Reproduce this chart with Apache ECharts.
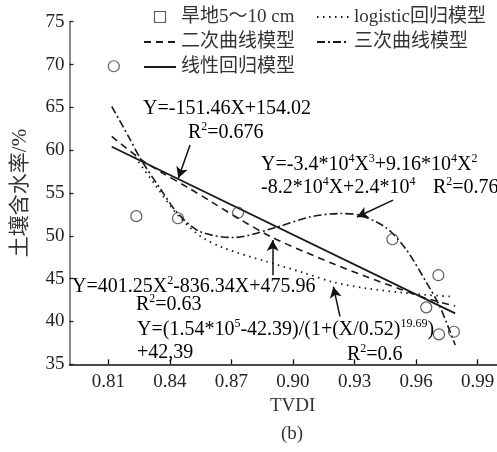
<!DOCTYPE html>
<html>
<head>
<meta charset="utf-8">
<script src="https://cdn.jsdelivr.net/npm/echarts@6/dist/echarts.min.js"></script>
<style>html,body{margin:0;padding:0;background:#fff}#c{width:497px;height:452px}</style>
</head>
<body>
<div id="c"></div>
<script>
// ---- data ----
const xTicks = [0.81, 0.84, 0.87, 0.90, 0.93, 0.96, 0.99];
const pointX = [0.8126, 0.8236, 0.8439, 0.8732, 0.9485, 0.9709, 0.9650, 0.9712, 0.9785];
const pointY = [69.8, 52.3, 52.05, 52.7, 49.6, 45.4, 41.65, 38.5, 38.8];
const linearX = [0.8116, 0.9791];
const linearY = [60.4, 40.95];
const quadX = [0.8116, 0.826, 0.836, 0.849, 0.860, 0.875, 0.890, 0.905, 0.920, 0.935, 0.952, 0.965, 0.9791];
const quadY = [61.6, 58.9, 57.4, 55.6, 54.0, 51.8, 49.8, 48.2, 46.7, 45.3, 43.8, 42.7, 41.8];
const cubicX = [0.8116, 0.820, 0.826, 0.8357, 0.8439, 0.8546, 0.8708, 0.8919, 0.9082, 0.9230, 0.9327, 0.9457, 0.9555, 0.9652, 0.9717, 0.9791];
const cubicY = [65.1, 61.5, 58.85, 55.35, 52.6, 50.5, 49.8, 51.0, 52.2, 52.6, 52.4, 50.9, 48.3, 44.5, 41.7, 37.25];
const logX = [0.823, 0.8326, 0.8439, 0.8546, 0.866, 0.887, 0.905, 0.9196, 0.935, 0.952, 0.965, 0.978];
const logY = [59.2, 56.0, 52.4, 50.0, 48.6, 47.0, 45.7, 44.6, 43.9, 43.4, 43.1, 42.9];
// arrows: [fromX, fromY, toX, toY]
const arrowLinear = [0.8498, 60.6, 0.8441, 56.75];
const arrowCubic = [0.9488, 54.17, 0.9312, 52.2];
const arrowQuad = [0.8901, 45.4, 0.8901, 49.5];
const arrowLog = [0.9229, 40.6, 0.9197, 44.06];

const names = ['旱地5～10 cm', '二次曲线模型', '线性回归模型', 'logistic回归模型', '三次曲线模型'];

const SERIF = '"Liberation Serif", "Noto Sans CJK SC", serif';
const zip = (a, b) => a.map((v, i) => [v, b[i]]);

const rich = {
  n: { fontFamily: SERIF, fontSize: 20, lineHeight: 24, color: '#222' },
  s: { fontFamily: SERIF, fontSize: 12, lineHeight: 12, verticalAlign: 'top', color: '#222' }
};
function eq(str) {
  return '{n|' + str.replace(/\^\{([^}]*)\}/g, '}{s|$1}{n|') + '}';
}
function txt(str, left, cy) {
  return { type: 'text', left: left, top: cy - 12, z: 100,
    style: { text: eq(str), rich: rich } };
}
function arrow(a) {
  return [{ coord: [a[0], a[1]] }, { coord: [a[2], a[3]] }];
}

const chart = echarts.init(document.getElementById('c'), null, { renderer: 'canvas' });
const LINE = '#1a1a1a';
const noSym = { color: 'rgba(0,0,0,0)', borderWidth: 0 };
chart.setOption({
  animation: false,
  backgroundColor: '#fff',
  grid: { left: 69.5, right: 0, top: 21.7, bottom: 87.7, containLabel: false, outerBoundsMode: 'none' },
  xAxis: {
    type: 'value', min: 0.791, max: 0.9995,
    axisLine: { show: true, lineStyle: { color: '#111', width: 1.5 } },
    axisTick: { show: true, inside: true, length: 5, customValues: xTicks, lineStyle: { color: '#111', width: 1.3 } },
    axisLabel: { customValues: xTicks, formatter: v => v.toFixed(2), margin: 8,
      fontFamily: SERIF, fontSize: 19, color: '#222' },
    splitLine: { show: false }
  },
  yAxis: {
    type: 'value', min: 35, max: 75, interval: 5,
    name: '土壤含水率/%', nameLocation: 'middle', nameGap: 39, nameRotate: 90,
    nameTextStyle: { fontFamily: SERIF, fontSize: 21, color: '#333' },
    axisLine: { show: true, lineStyle: { color: '#56666c', width: 1.5 } },
    axisTick: { show: true, inside: true, length: 4, lineStyle: { color: '#222', width: 1.3 } },
    axisLabel: { margin: 5, fontFamily: SERIF, fontSize: 19, color: '#222' },
    splitLine: { show: false }
  },
  legend: {
    orient: 'vertical', left: 138, top: 2, height: 72,
    itemWidth: 32, itemHeight: 11, itemGap: 5,
    textStyle: { fontFamily: SERIF, fontSize: 19, color: '#333', lineHeight: 20, width: 130 },
    data: [
      { name: names[0], icon: 'path://M0 0H10V10H0Z', itemStyle: { color: '#fff', borderColor: '#333', borderWidth: 1.2 } },
      { name: names[1], itemStyle: noSym },
      { name: names[2], itemStyle: noSym },
      { name: names[3], itemStyle: noSym },
      { name: names[4], itemStyle: noSym }
    ]
  },
  series: [
    { name: names[0], type: 'scatter', data: zip(pointX, pointY), symbol: 'circle', symbolSize: 11,
      itemStyle: { color: 'rgba(0,0,0,0)', borderColor: '#333', borderWidth: 1.2 }, z: 5 },
    { name: names[1], type: 'line', data: zip(quadX, quadY), showSymbol: false, symbol: 'none', smooth: 0.3,
      itemStyle: { color: LINE }, lineStyle: { color: LINE, width: 1.6, type: [7, 5] } },
    { name: names[2], type: 'line', data: zip(linearX, linearY), showSymbol: false, symbol: 'none',
      itemStyle: { color: LINE }, lineStyle: { color: LINE, width: 1.8, type: 'solid' } },
    { name: names[3], type: 'line', data: zip(logX, logY), showSymbol: false, symbol: 'none', smooth: 0.3,
      itemStyle: { color: LINE }, lineStyle: { color: LINE, width: 1.8, type: [1.5, 4.5] } },
    { name: names[4], type: 'line', data: zip(cubicX, cubicY), showSymbol: false, symbol: 'none', smooth: 0.3,
      itemStyle: { color: LINE }, lineStyle: { color: LINE, width: 1.6, type: [8, 3, 2, 3] } },
    { name: 'arrows', type: 'line', data: [], silent: true,
      markLine: { symbol: ['none', 'arrow'], symbolSize: [9, 11], silent: true, animation: false,
        label: { show: false }, lineStyle: { color: '#111', width: 1.5, type: 'solid' },
        emphasis: { disabled: true },
        data: [arrow(arrowLinear), arrow(arrowCubic), arrow(arrowQuad), arrow(arrowLog)] } }
  ],
  graphic: [
    txt('Y=-151.46X+154.02', 143, 111),
    txt('R^{2}=0.676', 188, 133),
    txt('Y=-3.4*10^{4}X^{3}+9.16*10^{4}X^{2}', 261, 165),
    txt('-8.2*10^{4}X+2.4*10^{4}', 261, 188),
    txt('R^{2}=0.76', 433, 188),
    txt('Y=401.25X^{2}-836.34X+475.96', 72, 287),
    txt('R^{2}=0.63', 136, 305),
    txt('Y=(1.54*10^{5}-42.39)/(1+(X/0.52)^{19.69})', 137, 330),
    txt('+42,39', 137, 355),
    txt('R^{2}=0.6', 347, 355),
    { type: 'text', left: 270, top: 397, style: { text: 'TVDI', fontFamily: SERIF, fontSize: 19, fill: '#333' } },
    { type: 'text', left: 281, top: 425, style: { text: '(b)', fontFamily: SERIF, fontSize: 19, fill: '#333' } }
  ]
});
</script>
</body>
</html>
